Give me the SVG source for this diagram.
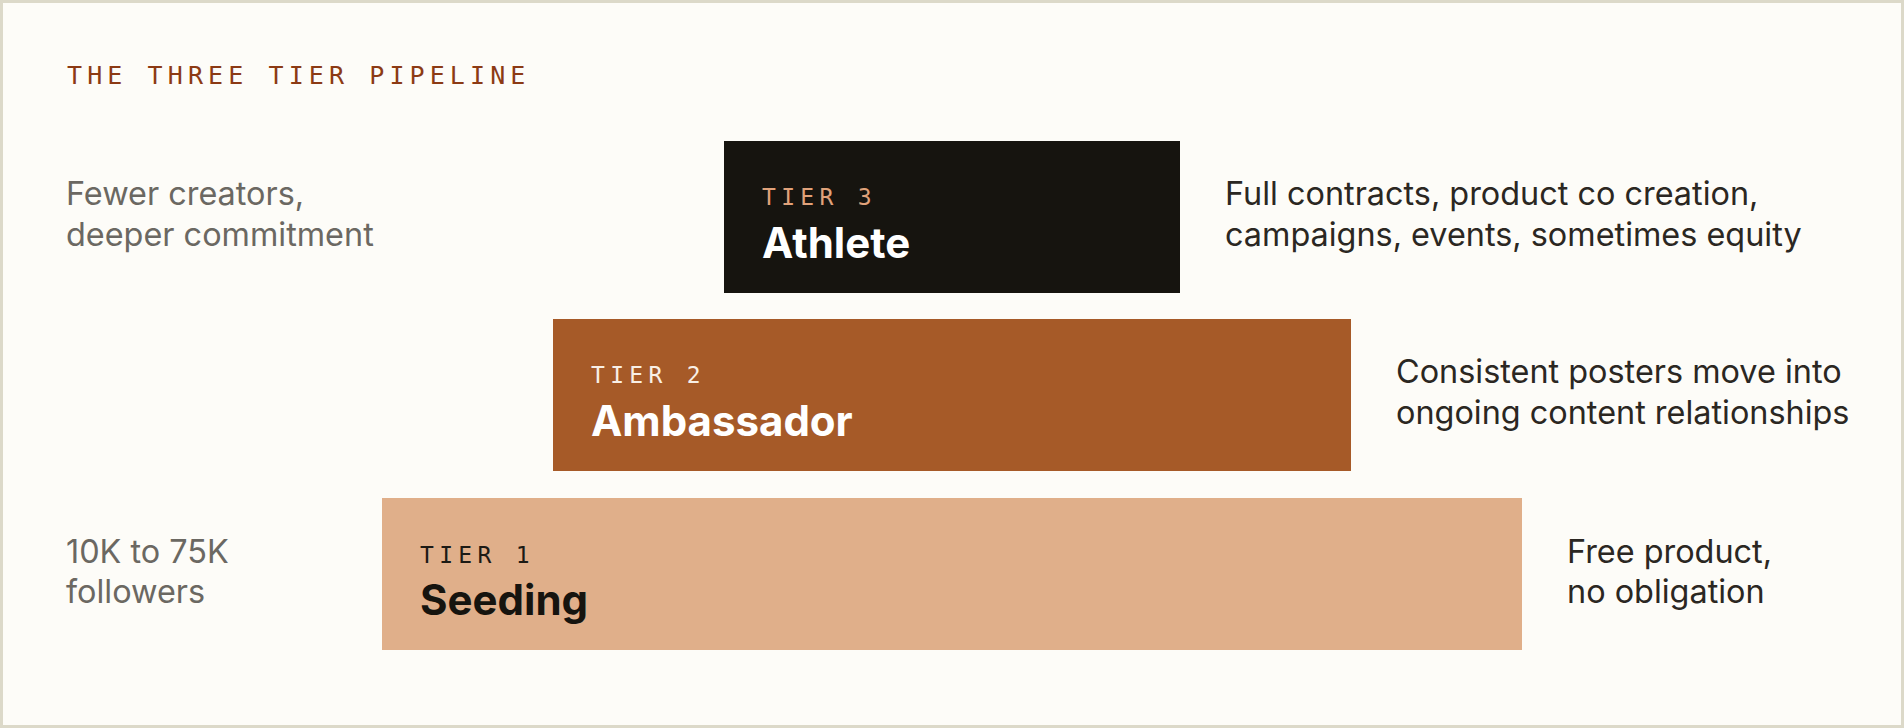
<svg xmlns="http://www.w3.org/2000/svg" width="1904" height="728" viewBox="0 0 1904 728">
<style>
.title{font-family:"DejaVu Sans Mono",monospace;font-size:25px;letter-spacing:5.1px;fill:#8c3a14}
.lab{font-family:"DejaVu Sans Mono",monospace;font-size:23px;letter-spacing:5.3px}
.name{font-family:Inter,"Noto Sans",sans-serif;font-size:42px;font-weight:700}
.side{font-family:Inter,"Noto Sans",sans-serif;font-size:32.4px}
.left{fill:#6b6862}
.right{fill:#2b2722}
</style>
<rect x="1.5" y="1.5" width="1901" height="725" fill="#fdfcf8" stroke="#dcd9c9" stroke-width="3"/>
<text class="title" x="67" y="84">THE THREE TIER PIPELINE</text>
<g id="tier3">
<rect x="724" y="141" width="456" height="152" fill="#16140f"/>
<text class="lab" x="762" y="205" fill="#e0a27a">TIER 3</text>
<text class="name" x="762" y="258" fill="#ffffff">Athlete</text>
</g>
<g id="tier2">
<rect x="553" y="319" width="798" height="152" fill="#a65a28"/>
<text class="lab" x="591" y="383" fill="#f8efe6">TIER 2</text>
<text class="name" x="591" y="436" fill="#ffffff">Ambassador</text>
</g>
<g id="tier1">
<rect x="382" y="498" width="1140" height="152" fill="#e0af8a"/>
<text class="lab" x="420" y="563" fill="#1c1a15">TIER 1</text>
<text class="name" x="420" y="615" fill="#16140f">Seeding</text>
</g>
<g id="left-notes">
<text class="side left" x="66" y="205">Fewer creators,</text>
<text class="side left" x="66" y="246">deeper commitment</text>
<text class="side left" x="66" y="563">10K to 75K</text>
<text class="side left" x="66" y="603">followers</text>
</g>
<g id="right-notes">
<text class="side right" x="1225" y="205">Full contracts, product co creation,</text>
<text class="side right" x="1225" y="246">campaigns, events, sometimes equity</text>
<text class="side right" x="1396" y="383">Consistent posters move into</text>
<text class="side right" x="1396" y="424">ongoing content relationships</text>
<text class="side right" x="1567" y="563">Free product,</text>
<text class="side right" x="1567" y="603">no obligation</text>
</g>
<g id="connectors"/>
</svg>
